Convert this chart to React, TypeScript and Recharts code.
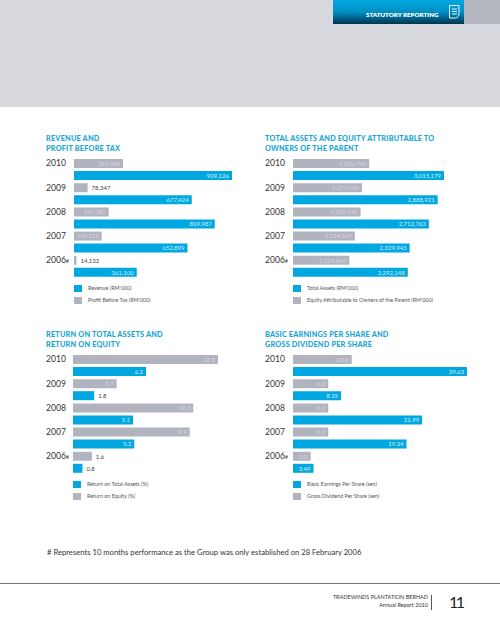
import { BarChart, Bar, XAxis, YAxis, Legend, LabelList } from 'recharts';

const years = ['2010', '2009', '2008', '2007', '2006#'];

const revenue = [909126, 677424, 809987, 652899, 361100];
const profit = [282408, 78347, 199787, 159231, 14132];
const totalAssets = [3015179, 2888921, 2712763, 2329945, 2292148];
const equity = [1520790, 1377056, 1350246, 1234569, 1124869];
const roa = [6.2, 1.8, 5.1, 5.2, 0.8];
const roe = [12.3, 3.7, 10.2, 9.9, 1.6];
const eps = [29.63, 8.19, 21.99, 19.34, 3.49];
const dividend = [10.0, 6.0, 6.0, 6.0, 3.0];

const BLUE = '#00a7e0';
const GREY = '#b1b4bf';
const FONT = 'Lato, sans-serif';

const thousands = (v: number) => v.toLocaleString('en-US');
const oneDecimal = (v: number) => v.toFixed(1);
const twoDecimals = (v: number) => v.toFixed(2);

interface PanelProps {
  title: string[];
  left: number;
  top: number;
  axisWidth: number;
  plotWidth: number;
  topValues: number[];
  bottomValues: number[];
  topName: string;
  bottomName: string;
  topFormat: (v: number) => string;
  bottomFormat: (v: number) => string;
  outside: number[];
}

function YearTick({ y, payload }: any) {
  const year = String(payload.value).replace('#', '');
  const marked = String(payload.value).endsWith('#');
  return (
    <text x={0} y={y - 6} dy={3.2} fontSize={8.6} fontFamily={FONT} fill="#333">
      {year}
      {marked && <tspan fontSize={5}>#</tspan>}
    </text>
  );
}

function barLabel(format: (v: number) => string, outside: number[], insideColor: string) {
  return ({ x, y, width, height, value }: any) => {
    const isOutside = outside.includes(value);
    return (
      <text
        x={isOutside ? x + width + 4 : x + width - 3}
        y={y + height / 2 + 2.2}
        textAnchor={isOutside ? 'start' : 'end'}
        fontSize={6}
        fontFamily={FONT}
        fill={isOutside ? '#444' : insideColor}
      >
        {format(value)}
      </text>
    );
  };
}

function LegendBox({ payload, indent }: any) {
  // series are drawn grey first, the key lists blue first
  const items = [...(payload || [])].reverse();
  return (
    <div style={{ paddingLeft: indent, paddingTop: 4 }}>
      {items.map((item: any) => (
        <div key={item.value} style={{ display: 'flex', alignItems: 'center', height: 12 }}>
          <span style={{ flex: '0 0 8px', height: 7, background: item.color, marginRight: 6 }} />
          <span style={{ fontSize: 5.4, fontFamily: FONT, color: '#555', whiteSpace: 'nowrap' }}>{item.value}</span>
        </div>
      ))}
    </div>
  );
}

function Panel(props: PanelProps) {
  const { left, top, axisWidth, plotWidth, topValues, bottomValues } = props;
  const data = years.map((year, i) => ({ year, a: topValues[i], b: bottomValues[i] }));
  const chartWidth = 215;
  return (
    <>
      <div
        style={{
          position: 'absolute',
          left,
          top: top - 16,
          fontFamily: FONT,
          fontWeight: 900,
          fontSize: 7.3,
          lineHeight: '9.6px',
          letterSpacing: 0.2,
          color: '#1ba6d6',
          whiteSpace: 'nowrap',
        }}
      >
        {props.title.map((line) => (
          <div key={line}>{line}</div>
        ))}
      </div>
      <div style={{ position: 'absolute', left, top }}>
        <BarChart
          width={chartWidth}
          height={157}
          data={data}
          layout="vertical"
          barSize={9}
          barGap={3}
          margin={{ top: 7, right: chartWidth - axisWidth - plotWidth, bottom: 0, left: 0 }}
        >
          <XAxis type="number" hide domain={[0, Math.max(...topValues, ...bottomValues)]} />
          <YAxis
            type="category"
            dataKey="year"
            width={axisWidth}
            axisLine={false}
            tickLine={false}
            interval={0}
            tick={<YearTick />}
          />
          <Legend
            verticalAlign="bottom"
            height={29}
            itemSorter={null}
            content={(p: any) => <LegendBox payload={p.payload} indent={axisWidth} />}
          />
          <Bar dataKey="a" name={props.topName} fill={GREY} isAnimationActive={false}>
            <LabelList dataKey="a" content={barLabel(props.topFormat, props.outside, '#d6d8de')} />
          </Bar>
          <Bar dataKey="b" name={props.bottomName} fill={BLUE} isAnimationActive={false}>
            <LabelList dataKey="b" content={barLabel(props.bottomFormat, props.outside, '#d3eefa')} />
          </Bar>
        </BarChart>
      </div>
    </>
  );
}

export default function App() {
  return (
    <div style={{ position: 'absolute', left: 0, top: 0, width: 500, height: 619, background: '#fff', overflow: 'hidden' }}>
      <div style={{ position: 'absolute', left: 0, top: 0, width: 500, height: 107, background: '#d7d9df' }} />
      <div style={{ position: 'absolute', left: 464, top: 0, width: 36, height: 24, background: '#b4b7c0' }} />
      <div
        style={{
          position: 'absolute',
          left: 333,
          top: 0,
          width: 131,
          height: 24,
          background: 'linear-gradient(#00a7e0 0%, #0090c4 50%, #00344f 100%)',
        }}
      />
      <div
        style={{
          position: 'absolute',
          left: 366,
          top: 10,
          fontFamily: FONT,
          fontWeight: 800,
          fontSize: 6.2,
          lineHeight: '9px',
          color: '#fff',
          whiteSpace: 'nowrap',
        }}
      >
        STATUTORY REPORTING
      </div>
      <svg style={{ position: 'absolute', left: 449, top: 5 }} width={12} height={14}>
        <path d="M0.5 0.5H10V10L7.5 13H0.5Z M3 4H8 M3 6.5H8 M3 9H8" fill="none" stroke="#e8f6fc" strokeWidth={1} />
      </svg>

      <Panel
        title={['REVENUE AND', 'PROFIT BEFORE TAX']}
        left={46}
        top={150}
        axisWidth={28}
        plotWidth={158}
        topValues={profit}
        bottomValues={revenue}
        topName="Profit Before Tax (RM'000)"
        bottomName="Revenue (RM'000)"
        topFormat={thousands}
        bottomFormat={thousands}
        outside={[78347, 14132]}
      />
      <Panel
        title={['TOTAL ASSETS AND EQUITY ATTRIBUTABLE TO', 'OWNERS OF THE PARENT']}
        left={265}
        top={150}
        axisWidth={28}
        plotWidth={151}
        topValues={equity}
        bottomValues={totalAssets}
        topName="Equity Attributable to Owners of the Parent (RM'000)"
        bottomName="Total Assets  (RM'000)"
        topFormat={thousands}
        bottomFormat={thousands}
        outside={[]}
      />
      <Panel
        title={['RETURN ON TOTAL ASSETS AND', 'RETURN ON EQUITY']}
        left={46}
        top={346}
        axisWidth={27}
        plotWidth={145}
        topValues={roe}
        bottomValues={roa}
        topName="Return on Equity (%)"
        bottomName="Return on Total Assets (%)"
        topFormat={oneDecimal}
        bottomFormat={oneDecimal}
        outside={[1.8, 1.6, 0.8]}
      />
      <Panel
        title={['BASIC EARNINGS PER SHARE AND', 'GROSS DIVIDEND PER SHARE']}
        left={265}
        top={346}
        axisWidth={28}
        plotWidth={174}
        topValues={dividend}
        bottomValues={eps}
        topName="Gross Dividend Per Share (sen)"
        bottomName="Basic Earnings Per Share (sen)"
        topFormat={oneDecimal}
        bottomFormat={twoDecimals}
        outside={[]}
      />

      <div
        style={{
          position: 'absolute',
          left: 47,
          top: 546,
          fontFamily: FONT,
          fontSize: 7.65,
          lineHeight: '12px',
          color: '#333',
          whiteSpace: 'nowrap',
        }}
      >
        # Represents 10 months performance as the Group was only established on 28 February 2006
      </div>
      <div style={{ position: 'absolute', left: 0, top: 583, width: 500, height: 1, background: '#777' }} />
      <div
        style={{
          position: 'absolute',
          right: 72,
          top: 593,
          textAlign: 'right',
          fontFamily: FONT,
          fontSize: 5.5,
          lineHeight: '8px',
          color: '#333',
          whiteSpace: 'nowrap',
        }}
      >
        <div>TRADEWINDS PLANTATION BERHAD</div>
        <div>Annual Report 2010</div>
      </div>
      <div style={{ position: 'absolute', left: 431, top: 595, width: 1, height: 15, background: '#555' }} />
      <div
        style={{
          position: 'absolute',
          left: 449,
          top: 590,
          fontFamily: FONT,
          fontSize: 16,
          lineHeight: '24px',
          letterSpacing: -2.5,
          color: '#222',
        }}
      >
        11
      </div>
    </div>
  );
}
